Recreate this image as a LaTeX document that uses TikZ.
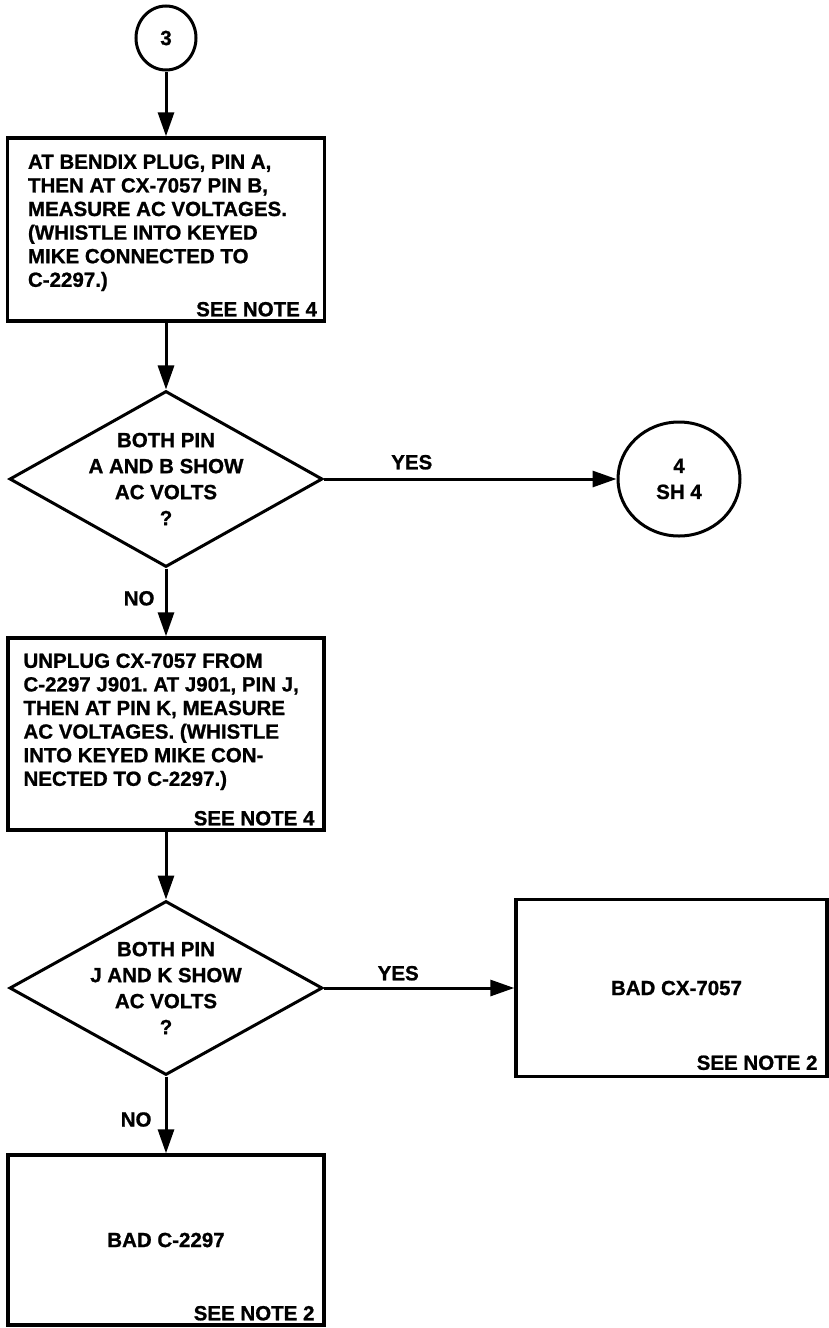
\documentclass[tikz,border=0pt]{standalone}
\usepackage{fontspec}
\setmainfont{Liberation Sans}[BoldFeatures={FakeBold=1}]
\usepackage{tikz}
\usetikzlibrary{arrows.meta,positioning,shapes.geometric}
\frenchspacing
\newcommand{\bxfont}{\fontsize{20.5}{23.6}\selectfont\bfseries}
\newcommand{\difont}{\fontsize{20.5}{26}\selectfont\bfseries}
\tikzset{
  box/.style={draw, rectangle, line width=3.4pt, inner sep=0pt},
  dec/.style={draw, diamond, aspect=1.78, line width=3pt, inner sep=-1.2pt, align=center, font=\difont},
  conn/.style={draw, ellipse, line width=3pt, inner sep=0pt, align=center, font=\difont},
  flow/.style={-{Triangle[length=24pt,width=16pt]}, line width=3pt},
  boxtext/.style={inner sep=0pt, align=left, font=\bxfont},
  note/.style={inner sep=0pt, font=\bxfont},
  lbl/.style={inner sep=0pt, font=\bxfont},
}

\begin{document}
\begin{tikzpicture}[x=1pt, y=1pt]
    \useasboundingbox (0,0) rectangle (829,-1328);
    % left column
    \node[conn, minimum width=60pt, minimum height=64pt] (c3) at (166,-38) {3};
    \node[box, minimum width=317pt, minimum height=183pt] (b1) at (166,-229.5) {};
    \node[boxtext, below right=18pt and 22pt of b1.north west] (txt1)
      {AT BENDIX PLUG, PIN A,\\THEN AT CX-7057 PIN B,\\MEASURE AC VOLTAGES.\\(WHISTLE INTO KEYED\\MIKE CONNECTED TO\\C-2297.)};
    \node[note, above left=6pt and 9pt of b1.south east] (note1) {SEE NOTE 4};
    \node[dec, minimum width=313pt, minimum height=176pt] (d1) at (166,-479)
      {BOTH PIN\\A AND B SHOW\\AC VOLTS\\?};
    \node[box, minimum width=316pt, minimum height=192pt] (b2) at (166,-734) {};
    \node[boxtext, below right=17pt and 17pt of b2.north west] (txt2)
      {UNPLUG CX-7057 FROM\\C-2297 J901. AT J901, PIN J,\\THEN AT PIN K, MEASURE\\AC VOLTAGES. (WHISTLE\\INTO KEYED MIKE CON-\\NECTED TO C-2297.)};
    \node[note, above left=6pt and 11pt of b2.south east] (note2) {SEE NOTE 4};
    \node[dec, minimum width=313pt, minimum height=174pt] (d2) at (166,-988)
      {BOTH PIN\\J AND K SHOW\\AC VOLTS\\?};
    \node[box, minimum width=316pt, minimum height=170pt, font=\bxfont] (b4) at (166,-1240) {BAD C-2297};
    \node[note, above left=6pt and 11pt of b4.south east] (note4) {SEE NOTE 2};
    % right column
    \node[conn, minimum width=122pt, minimum height=114pt] (c4) at (679,-479) {4\\SH 4};
    \node[box, minimum width=311pt, minimum height=177pt, font=\bxfont] (b3) at (671.5,-988) {\hspace*{10pt}BAD CX-7057};
    \node[note, above left=8pt and 11pt of b3.south east] (note3) {SEE NOTE 2};
    % connectors
    \draw[flow] (c3) -- (b1);
    \draw[flow] (b1) -- (d1);
    \draw[flow] (d1) -- node[lbl, above=8pt, pos=0.3] (yes1) {YES} (c4);
    \draw[flow] (d1) -- node[lbl, left=10pt, pos=0.44] (no1) {NO} (b2);
    \draw[flow] (b2) -- (d2);
    \draw[flow] (d2) -- node[lbl, above=6pt, pos=0.39] (yes2) {YES} (b3);
    \draw[flow] (d2) -- node[lbl, left=13pt, pos=0.56] (no2) {NO} (b4);
  \end{tikzpicture}
\end{document}
